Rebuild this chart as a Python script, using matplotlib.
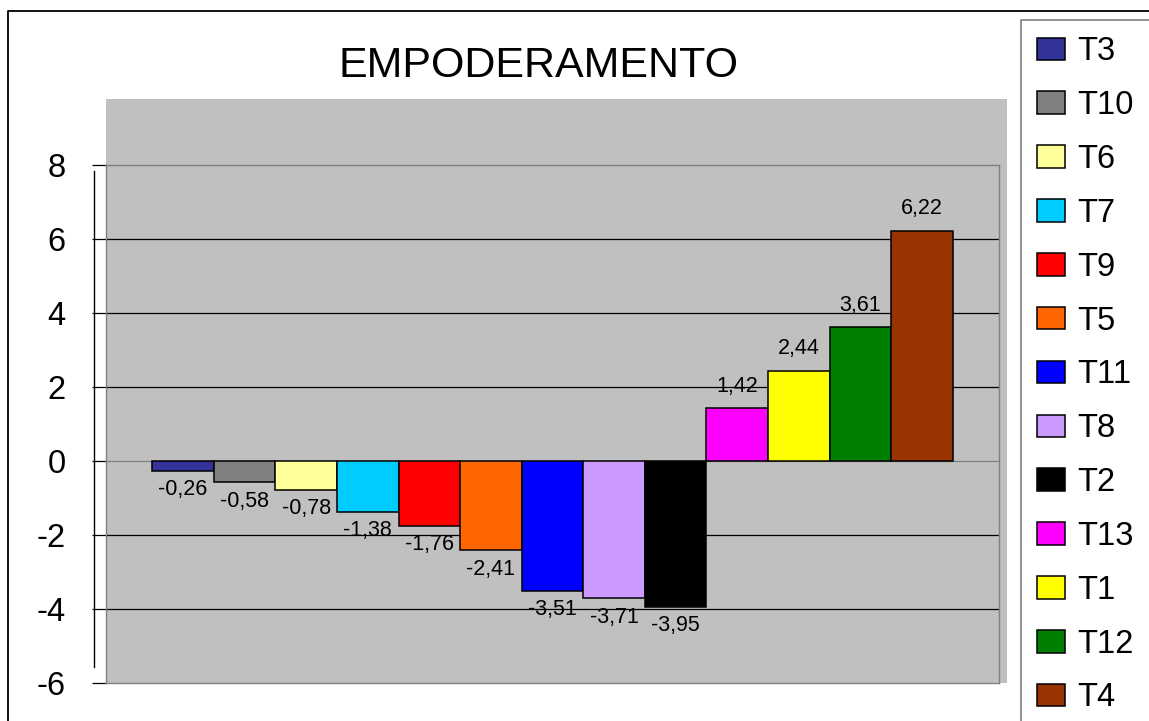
import matplotlib
matplotlib.use("Agg")
import matplotlib.pyplot as plt
from matplotlib.patches import Rectangle
from matplotlib.lines import Line2D
import matplotlib.transforms as mtransforms

plt.rcParams["font.family"] = ["Liberation Sans", "DejaVu Sans"]

# data
labels = ["T3", "T10", "T6", "T7", "T9", "T5", "T11", "T8", "T2", "T13", "T1", "T12", "T4"]
values = [-0.26, -0.58, -0.78, -1.38, -1.76, -2.41, -3.51, -3.71, -3.95, 1.42, 2.44, 3.61, 6.22]
colors = ["#333399", "#808080", "#FFFF99", "#00CCFF", "#FF0000", "#FF6600", "#0000FF",
          "#CC99FF", "#000000", "#FF00FF", "#FFFF00", "#008000", "#993300"]
yticks = [-6, -4, -2, 0, 2, 4, 6, 8]

W, H = 1149, 721
fig = plt.figure(figsize=(W / 100, H / 100), dpi=100)

def fx(px):
    return px / W

def fy(py):
    return 1 - py / H

# grey plot-area background
fig.patches.append(Rectangle((fx(106), fy(683)), fx(1007) - fx(106), fy(99) - fy(683),
                             transform=fig.transFigure, facecolor="#C0C0C0",
                             edgecolor="none", zorder=-5))

# outer chart border (left and top only visible)
fig.add_artist(Line2D([fx(8), fx(8), fx(1149)], [fy(721), fy(11), fy(11)],
                      transform=fig.transFigure, color="black", lw=1.3))

ax = fig.add_axes([fx(106), fy(683), fx(999) - fx(106), fy(165) - fy(683)])
ax.set_facecolor("none")

for i, (lab, v, c) in enumerate(zip(labels, values, colors)):
    bars = ax.bar(i, v, width=1.0, color=c, edgecolor="black", linewidth=1.1,
                  label=lab, zorder=3)
    pad = 6 if v < 0 else 8.5
    ax.bar_label(bars, labels=[f"{v:.2f}".replace(".", ",")], padding=pad,
                 fontsize=15.5, color="black")

ax.set_xlim(-1.25, 13.25)
ax.set_ylim(-6, 8)
ax.set_xticks([])
ax.set_yticks(yticks)
ax.set_yticklabels([str(t) for t in yticks])
ax.tick_params(axis="y", length=10, width=0.9, color="black", labelsize=23.5, pad=19)

# gridlines
ax.set_axisbelow(True)
for t in yticks:
    if t in (-6, 8):
        continue
    ax.axhline(t, color="#808080" if t == 0 else "black", lw=0.9, zorder=1)

for s in ax.spines.values():
    s.set_color("#808080")
    s.set_linewidth(1.0)

# secondary y-axis line drawn left of the plot area
trans = mtransforms.blended_transform_factory(fig.transFigure, ax.transData)
fig.add_artist(Line2D([fx(94), fx(94)], [7.84, -5.57], transform=trans,
                      color="black", lw=1.0))

fig.text(fx(538), fy(66), "EMPODERAMENTO", ha="center", va="center", fontsize=31)

leg = fig.legend(loc="upper left", bbox_to_anchor=(fx(1021), fy(20)), borderaxespad=0,
                 fontsize=23.5, frameon=True, fancybox=False, edgecolor="#606060",
                 handlelength=0.85, handleheight=0.69, handletextpad=0.38,
                 labelspacing=0.70, borderpad=0.5)
leg.get_frame().set_linewidth(1.2)

fig.savefig("out.png", dpi=100)
